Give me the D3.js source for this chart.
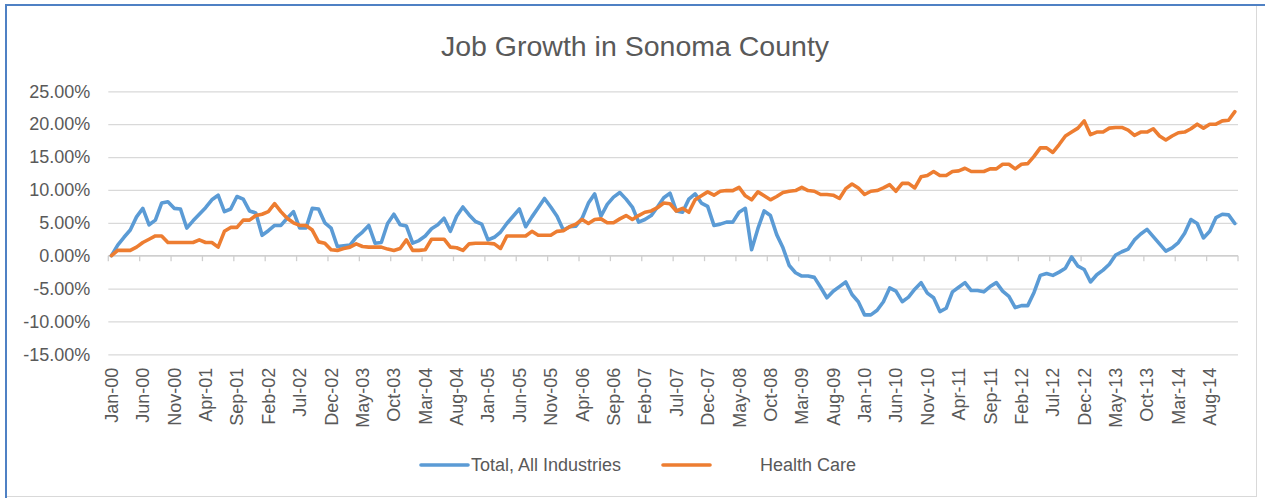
<!DOCTYPE html>
<html>
<head>
<meta charset="utf-8">
<script src="https://cdn.jsdelivr.net/npm/d3@7"></script>
<style>
  html, body { margin: 0; padding: 0; background: #fff; }
  svg { display: block; font-family: "Liberation Sans", Arial, sans-serif; }
</style>
</head>
<body>
<div id="chart"></div>
<script>
// monthly categories Jan-00 .. Dec-14
const categories = d3.timeMonths(new Date(2000, 0, 1), new Date(2015, 0, 1)).map(d3.timeFormat("%b-%y"));

const tickLabels = ["Jan-00","Jun-00","Nov-00","Apr-01","Sep-01","Feb-02","Jul-02","Dec-02","May-03","Oct-03",
  "Mar-04","Aug-04","Jan-05","Jun-05","Nov-05","Apr-06","Sep-06","Feb-07","Jul-07","Dec-07",
  "May-08","Oct-08","Mar-09","Aug-09","Jan-10","Jun-10","Nov-10","Apr-11","Sep-11","Feb-12",
  "Jul-12","Dec-12","May-13","Oct-13","Mar-14","Aug-14"];

const yTicks = [-15, -10, -5, 0, 5, 10, 15, 20, 25];

const seriesNames = ["Total, All Industries", "Health Care"];

// percent growth, Total, All Industries
const totalAll = [
  0, 1.6, 2.8, 3.9, 5.9, 7.2, 4.7, 5.4, 8.0, 8.2, 7.2, 7.1,
  4.2, 5.3, 6.3, 7.3, 8.5, 9.2, 6.7, 7.1, 9.0, 8.6, 6.8, 6.5,
  3.1, 3.8, 4.6, 4.6, 5.7, 6.7, 4.2, 4.2, 7.2, 7.1, 5.0, 4.2,
  1.4, 1.5, 1.6, 2.8, 3.6, 4.6, 1.9, 2.0, 4.9, 6.3, 4.7, 4.5,
  1.9, 2.3, 3.0, 4.1, 4.7, 5.7, 3.7, 6.0, 7.4, 6.2, 5.2, 4.8,
  2.4, 2.8, 3.6, 4.9, 6.0, 7.1, 4.4, 5.9, 7.3, 8.7, 7.4, 6.0,
  3.9, 4.4, 4.5, 5.7, 8.0, 9.4, 6.0, 7.8, 8.9, 9.6, 8.6, 7.4,
  5.1, 5.5, 6.1, 7.4, 8.8, 9.5, 6.8, 6.6, 8.6, 9.4, 8.0, 7.5,
  4.6, 4.8, 5.1, 5.1, 6.6, 7.2, 0.9, 4.1, 6.8, 6.1, 3.2, 1.2,
  -1.5, -2.6, -3.1, -3.1, -3.3, -4.8, -6.4, -5.4, -4.7, -4.0, -5.9, -7.0,
  -9.0, -9.0, -8.3, -7.0, -4.9, -5.4, -7.0, -6.3, -5.1, -4.1, -5.7, -6.4,
  -8.5, -8.0, -5.5, -4.8, -4.1, -5.3, -5.3, -5.5, -4.7, -4.1, -5.4, -6.2,
  -7.9, -7.6, -7.6, -5.6, -3.0, -2.7, -3.0, -2.5, -1.9, -0.2, -1.6, -2.1,
  -4.0, -2.9, -2.2, -1.3, 0.1, 0.6, 1.0, 2.4, 3.3, 4.0, 2.9, 1.8,
  0.7, 1.2, 2.0, 3.4, 5.5, 4.9, 2.7, 3.7, 5.8, 6.3, 6.2, 4.9
];

// percent growth, Health Care
const healthCare = [
  0, 0.8, 0.8, 0.8, 1.3, 2.0, 2.5, 3.0, 3.0, 2.0, 2.0, 2.0,
  2.0, 2.0, 2.4, 2.0, 2.0, 1.3, 3.7, 4.3, 4.3, 5.4, 5.4, 6.1,
  6.3, 6.7, 7.9, 6.7, 5.7, 5.0, 4.6, 4.6, 3.9, 2.1, 1.9, 0.9,
  0.8, 1.1, 1.3, 1.8, 1.4, 1.3, 1.3, 1.3, 1.0, 0.8, 1.1, 2.4,
  0.8, 0.8, 0.9, 2.5, 2.5, 2.5, 1.3, 1.2, 0.8, 1.8, 1.9, 1.9,
  1.9, 1.8, 1.1, 3.0, 3.0, 3.0, 3.0, 3.7, 3.1, 3.1, 3.1, 3.7,
  3.8, 4.4, 4.8, 5.5, 4.9, 5.5, 5.6, 5.0, 5.0, 5.6, 6.1, 5.5,
  6.1, 6.6, 6.8, 7.3, 8.0, 7.9, 6.8, 7.2, 6.6, 8.5, 9.1, 9.7,
  9.2, 9.8, 9.9, 9.9, 10.4, 9.1, 8.5, 9.7, 9.1, 8.5, 9.0, 9.6,
  9.8, 9.9, 10.4, 9.9, 9.8, 9.3, 9.3, 9.2, 8.7, 10.2, 10.9, 10.3,
  9.3, 9.8, 9.9, 10.3, 10.8, 9.8, 11.0, 11.0, 10.3, 12.0, 12.2, 12.8,
  12.2, 12.2, 12.8, 12.9, 13.3, 12.8, 12.8, 12.8, 13.2, 13.2, 13.9, 13.9,
  13.2, 13.9, 14.0, 15.1, 16.4, 16.4, 15.7, 16.9, 18.2, 18.8, 19.4, 20.5,
  18.4, 18.8, 18.8, 19.4, 19.5, 19.5, 19.1, 18.3, 18.8, 18.8, 19.3, 18.2,
  17.6, 18.2, 18.7, 18.8, 19.3, 20.0, 19.4, 20.0, 20.0, 20.5, 20.6, 21.9
];

const W = 1265, H = 498;
const margin = { top: 91.3, right: 27, bottom: 143.7, left: 108.3 };
const textColor = "#595959";
const gridColor = "#d9d9d9";
const colors = ["#5b9bd5", "#ed7d31"];

const svg = d3.select("#chart")
  .append("svg")
  .attr("width", W)
  .attr("height", H);

svg.append("rect")
  .attr("width", W).attr("height", H)
  .attr("fill", "#fff");

// chart frame
svg.append("rect")
  .attr("x", 6.5).attr("y", 5.5)
  .attr("width", 1250).attr("height", 491)
  .attr("fill", "none")
  .attr("stroke", gridColor);
svg.append("line")
  .attr("x1", 5).attr("x2", W).attr("y1", 5).attr("y2", 5)
  .attr("stroke", "#4f81c4").attr("stroke-width", 2);
svg.append("line")
  .attr("x1", 6).attr("x2", 6).attr("y1", 4).attr("y2", H)
  .attr("stroke", "#4f81c4").attr("stroke-width", 2);

const x = d3.scaleBand()
  .domain(categories)
  .range([margin.left, W - margin.right])
  .padding(0);

const y = d3.scaleLinear()
  .domain([-15, 25])
  .range([H - margin.bottom, margin.top]);

// title
svg.append("text")
  .attr("x", 635)
  .attr("y", 56)
  .attr("text-anchor", "middle")
  .attr("fill", textColor)
  .style("font-size", "28.5px")
  .text("Job Growth in Sonoma County");

// gridlines + y labels
const yAxis = svg.append("g")
  .attr("transform", "translate(" + margin.left + ",0)")
  .call(d3.axisLeft(y)
    .tickValues(yTicks)
    .tickSize(-(W - margin.left - margin.right))
    .tickPadding(18)
    .tickFormat(d => d.toFixed(2) + "%"));
yAxis.select(".domain").remove();
yAxis.selectAll("line").attr("stroke", gridColor).attr("stroke-width", 1.3);
yAxis.selectAll("text")
  .attr("fill", textColor)
  .style("font-size", "18px")
  .style("font-family", "Liberation Sans, Arial, sans-serif");

// horizontal axis line at zero with tick marks every 5 months
const y0 = y(0);
svg.append("line")
  .attr("x1", x.range()[0]).attr("x2", x.range()[1])
  .attr("y1", y0).attr("y2", y0)
  .attr("stroke", "#cfcfcf").attr("stroke-width", 1.3);

const tickPos = d3.range(0, categories.length + 1, 5)
  .map(i => i < categories.length ? x(categories[i]) : x(categories[i - 1]) + x.bandwidth());
svg.append("g")
  .selectAll("line")
  .data(tickPos)
  .enter()
  .append("line")
  .attr("x1", d => d).attr("x2", d => d)
  .attr("y1", y0).attr("y2", y0 + 5.5)
  .attr("stroke", "#cfcfcf").attr("stroke-width", 1.3);

// category labels at the bottom of the plot
const xAxis = svg.append("g")
  .attr("transform", "translate(0," + y(-15) + ")")
  .call(d3.axisBottom(x).tickValues(tickLabels).tickSize(0));
xAxis.select(".domain").remove();
xAxis.selectAll("text")
  .attr("transform", "rotate(-90)")
  .attr("text-anchor", "end")
  .attr("x", -13.5)
  .attr("y", 0)
  .attr("dy", "0.36em")
  .attr("fill", textColor)
  .style("font-size", "18px")
  .style("font-family", "Liberation Sans, Arial, sans-serif");

// lines
const line = d3.line()
  .x((d, i) => x(categories[i]) + x.bandwidth() / 2)
  .y(d => y(d));

[totalAll, healthCare].forEach((s, k) => {
  svg.append("path")
    .datum(s)
    .attr("d", line)
    .attr("fill", "none")
    .attr("stroke", colors[k])
    .attr("stroke-width", 3.6)
    .attr("stroke-linejoin", "round")
    .attr("stroke-linecap", "round");
});

// legend
const legendX = [421, 663];
const legendTextX = [471, 760];
const legend = svg.append("g");
seriesNames.forEach((name, k) => {
  legend.append("line")
    .attr("x1", legendX[k]).attr("x2", legendX[k] + 47)
    .attr("y1", 465).attr("y2", 465)
    .attr("stroke", colors[k])
    .attr("stroke-width", 3.6)
    .attr("stroke-linecap", "round");
  legend.append("text")
    .attr("x", legendTextX[k])
    .attr("y", 471)
    .attr("fill", textColor)
    .style("font-size", "18px")
    .text(name);
});
</script>
</body>
</html>
